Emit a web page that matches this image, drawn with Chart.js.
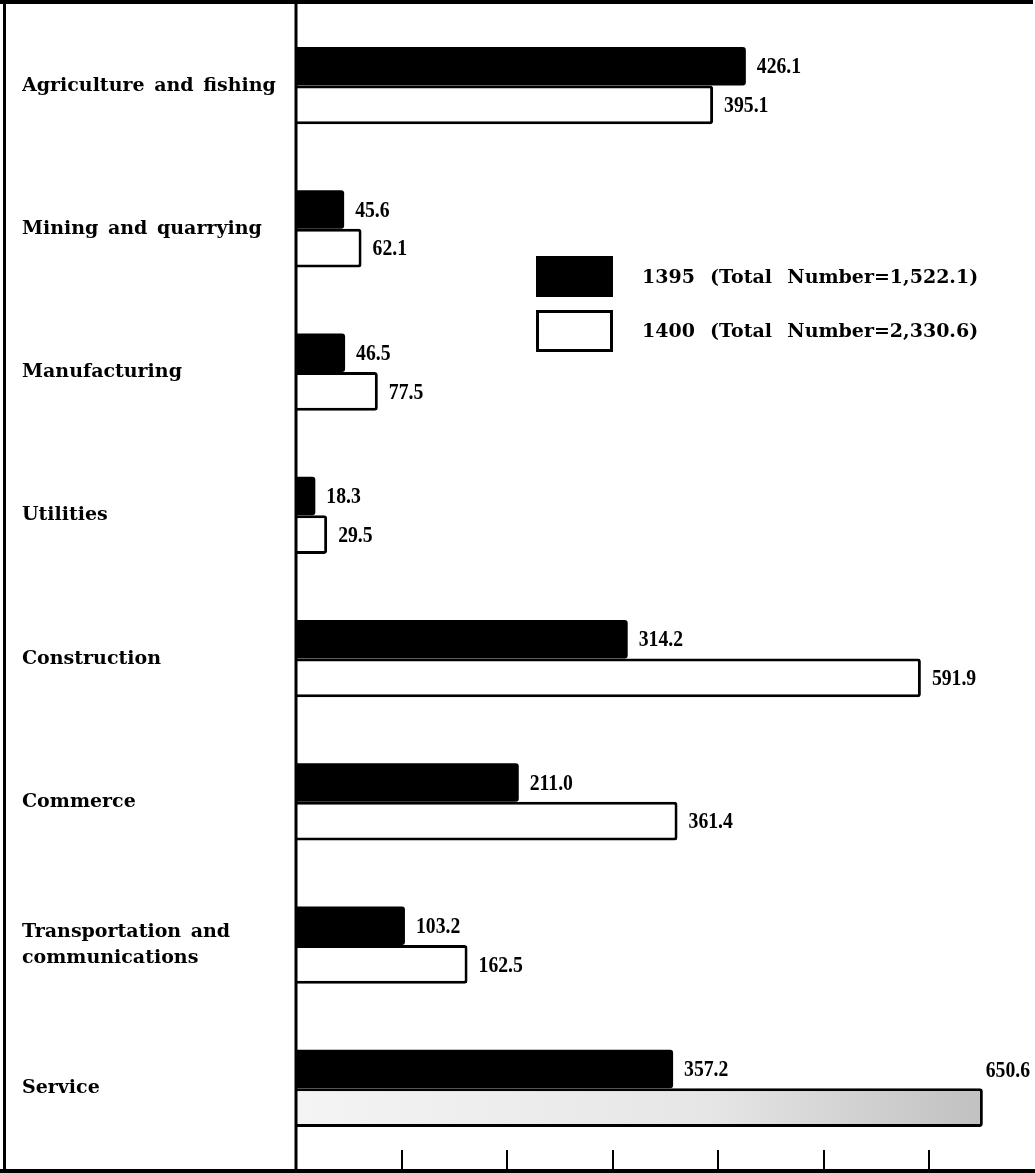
<!DOCTYPE html>
<html><head><meta charset="utf-8">
<script src="https://cdn.jsdelivr.net/npm/chart.js@4.4.1/dist/chart.umd.min.js"></script>
<style>
html,body{margin:0;padding:0;background:#fff;}
#wrap{position:relative;width:1035px;height:1173px;}
canvas{display:block;}
</style></head><body>
<div id="wrap"><canvas id="c" width="1035" height="1173"></canvas></div>
<script>
const categories = ['Agriculture and fishing', 'Mining and quarrying', 'Manufacturing', 'Utilities', 'Construction', 'Commerce', ['Transportation and', 'communications'], 'Service'];
const values1395 = [426.1, 45.6, 46.5, 18.3, 314.2, 211.0, 103.2, 357.2];
const values1400 = [395.1, 62.1, 77.5, 29.5, 591.9, 361.4, 162.5, 650.6];
const seriesLabels = ['1395  (Total  Number=1,522.1)', '1400  (Total  Number=2,330.6)'];
const xTicks = [100, 200, 300, 400, 500, 600];
const xMin = 0, xMax = 700;

const labelFont = 'bold 19px "DejaVu Serif"';
const valueFont = 'bold 24px "Liberation Serif"';

const spacingPlugin = {
  id: 'spacing',
  beforeDraw(chart) { try { chart.ctx.wordSpacing = '3px'; } catch (e) {} }
};

const framePlugin = {
  id: 'frame',
  afterDraw(chart) {
    const ctx = chart.ctx, W = chart.width, H = chart.height;
    const xs = chart.scales.x;
    ctx.save();
    ctx.fillStyle = '#000';
    ctx.fillRect(0, 0, W - 2, 4);          // top line
    ctx.fillRect(3, 0, 3, H);              // left line
    ctx.fillRect(0, H - 4, W, 4);          // bottom line
    const x0 = xs.getPixelForValue(0);
    ctx.fillRect(x0 - 1.5, 0, 3, H);       // divider / value axis
    xTicks.forEach(v => {
      const px = xs.getPixelForValue(v);
      ctx.fillRect(Math.round(px) - 1, H - 23, 2, 20);
    });
    ctx.restore();
  }
};

const valueLabelPlugin = {
  id: 'valueLabels',
  afterDatasetsDraw(chart) {
    const ctx = chart.ctx;
    const sx = 0.82;
    ctx.save();
    ctx.font = valueFont;
    ctx.fillStyle = '#000';
    ctx.textBaseline = 'middle';
    ctx.textAlign = 'left';
    chart.data.datasets.forEach((ds, d) => {
      const meta = chart.getDatasetMeta(d);
      meta.data.forEach((el, i) => {
        const txt = ds.data[i].toFixed(1);
        const w = ctx.measureText(txt).width * sx;
        let x = el.x + 11, y = el.y + 1;
        if (x + w > chart.width - 4) {
          x = Math.min(el.x + 4, chart.width - w - 5);
          y = el.y - el.height + 2;
        }
        ctx.save();
        ctx.translate(x, y);
        ctx.scale(sx, 1);
        ctx.fillText(txt, 0, 0);
        ctx.restore();
      });
    });
    ctx.restore();
  }
};

const legendPlugin = {
  id: 'customLegend',
  afterDraw(chart) {
    const ctx = chart.ctx;
    ctx.save();
    try { ctx.wordSpacing = '1px'; } catch (e) {}
    ctx.fillStyle = '#000';
    ctx.fillRect(536, 256, 77, 41);
    ctx.fillStyle = '#fff';
    ctx.fillRect(536, 310, 77, 42);
    ctx.strokeStyle = '#000';
    ctx.lineWidth = 3;
    ctx.strokeRect(537.5, 311.5, 74, 39);
    ctx.fillStyle = '#000';
    ctx.font = labelFont;
    ctx.textBaseline = 'middle';
    ctx.textAlign = 'left';
    ctx.fillText(chart.data.datasets[0].label, 642, 278);
    ctx.fillText(chart.data.datasets[1].label, 642, 332);
    ctx.restore();
  }
};

new Chart(document.getElementById('c').getContext('2d'), {
  type: 'bar',
  data: {
    labels: categories,
    datasets: [
      {
        label: seriesLabels[0],
        data: values1395,
        backgroundColor: '#000',
        borderWidth: 0,
        borderRadius: { topRight: 3, bottomRight: 3 }
      },
      {
        label: seriesLabels[1],
        data: values1400,
        backgroundColor: (c) => {
          const ch = c.chart;
          if (c.dataIndex === 7 && ch.chartArea) {
            const g = ch.ctx.createLinearGradient(ch.chartArea.left, 0, ch.chartArea.right - 50, 0);
            g.addColorStop(0, '#f4f4f4');
            g.addColorStop(0.6, '#e6e6e6');
            g.addColorStop(1, '#c0c0c0');
            return g;
          }
          return '#fff';
        },
        borderColor: '#000',
        borderWidth: 3,
        borderSkipped: 'start',
        borderRadius: { topRight: 3, bottomRight: 3 }
      }
    ]
  },
  options: {
    indexAxis: 'y',
    responsive: false,
    animation: false,
    layout: { padding: { top: 14, bottom: 11, left: 22, right: 0 } },
    datasets: { bar: { categoryPercentage: 0.54, barPercentage: 1 } },
    plugins: { legend: { display: false }, tooltip: { enabled: false } },
    scales: {
      x: { type: 'linear', min: xMin, max: xMax, display: false },
      y: {
        grid: { display: false },
        border: { display: false },
        ticks: {
          crossAlign: 'far',
          padding: 0,
          color: '#000',
          font: { family: 'DejaVu Serif', weight: 'bold', size: 19, lineHeight: 1.37 }
        },
        afterFit(s) { s.width = 274; }
      }
    }
  },
  plugins: [spacingPlugin, framePlugin, valueLabelPlugin, legendPlugin]
});
</script>
</body></html>
